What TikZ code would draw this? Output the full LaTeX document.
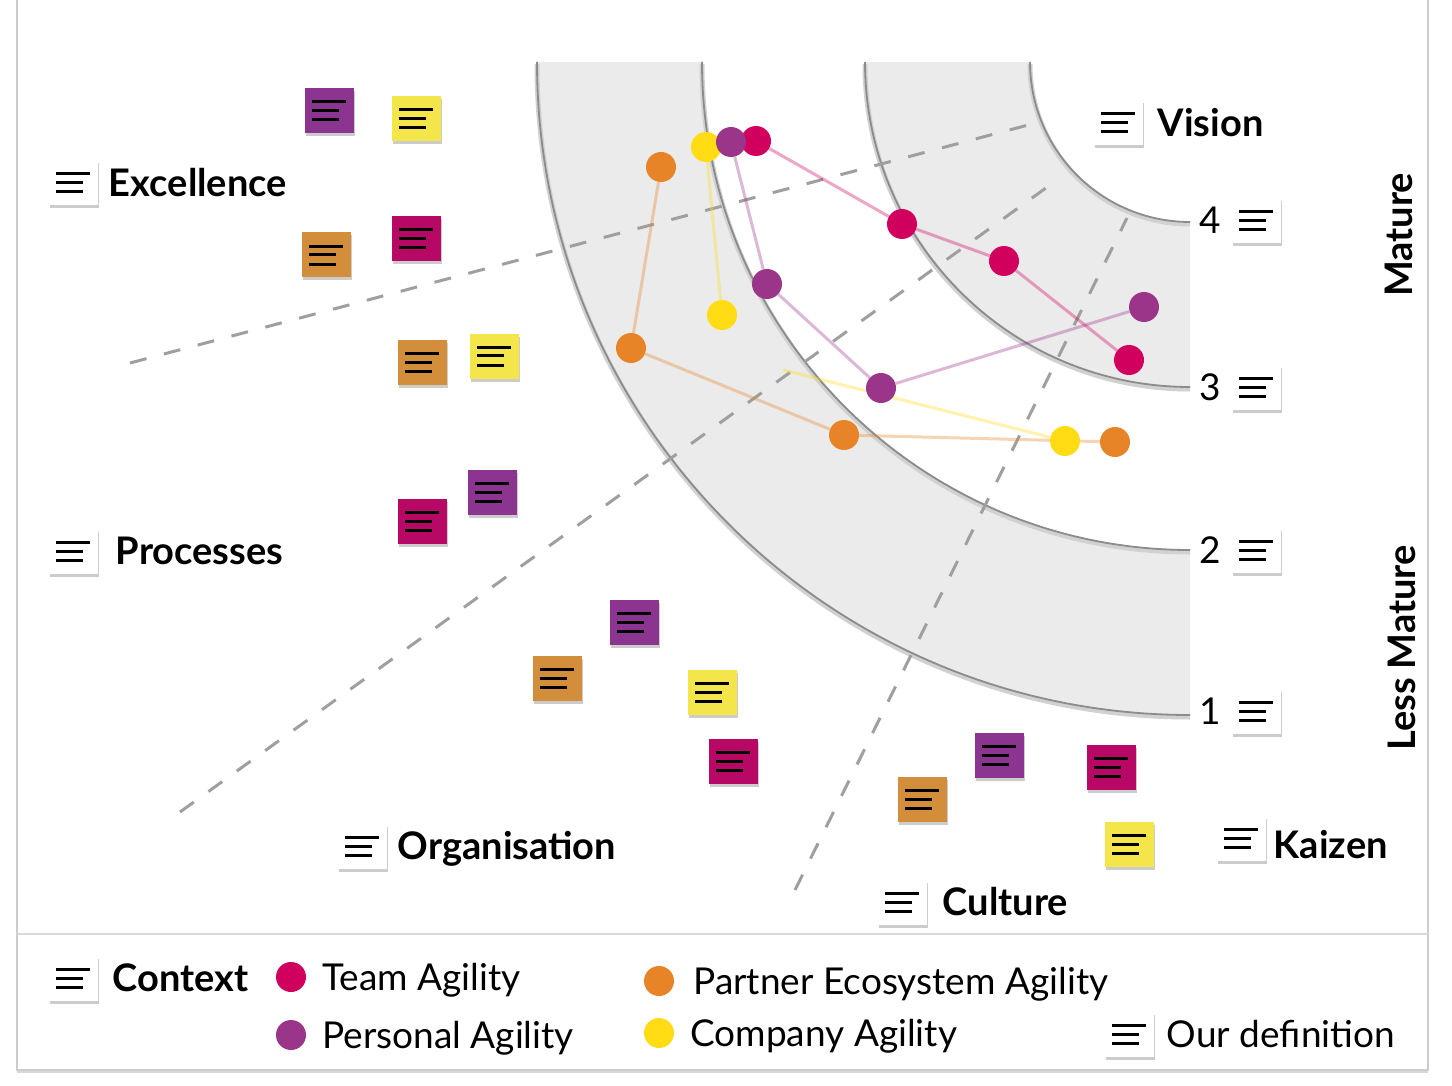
\documentclass[tikz,border=0pt]{standalone}
\usepackage{fontspec}
\setmainfont{Lato}
\usepackage{tikz}
\usetikzlibrary{positioning,shadows}
\definecolor{teamc}{HTML}{D1005F}
\definecolor{persc}{HTML}{9B358A}
\definecolor{partc}{HTML}{E68427}
\definecolor{compc}{HTML}{FFDC14}
\definecolor{npur}{HTML}{8B3591}
\definecolor{nyel}{HTML}{F4E54A}
\definecolor{nora}{HTML}{D38E3B}
\definecolor{nmag}{HTML}{B80866}
\definecolor{bandgray}{HTML}{EBEBEB}
\definecolor{dashgray}{HTML}{9F9F9F}
\newcommand\txtlines{\vbox{\hrule width 34pt height 3pt\vskip 6pt\hrule width 27pt height 3pt\vskip 6pt\hrule width 27pt height 3pt}}
\pgfdeclarelayer{bg}
\pgfdeclarelayer{links}
\pgfsetlayers{bg,links,main}

\begin{document}
\begin{tikzpicture}[x=1pt,y=1pt,
  icon/.style={minimum width=49pt,minimum height=45pt,inner sep=0pt,drop shadow={shadow xshift=1pt,shadow yshift=-3pt,opacity=.4}},
  note/.style={icon,fill=white},
  sticky/.style={icon,fill=#1},
  lbl/.style={font=\fontsize{38}{40}\selectfont\bfseries,inner sep=0pt,text height=27pt,text depth=0pt},
  leg/.style={font=\fontsize{37}{40}\selectfont,inner sep=0pt,text height=26pt,text depth=0pt},
  dot/.style={circle,fill=#1,minimum size=30pt,inner sep=0pt},
  link/.style={draw=#1,draw opacity=.35,line width=3pt},
  sector/.style={dashgray,line width=3pt,dash pattern=on 17pt off 18pt},
  band/.style={fill=bandgray},
  rim/.style={black!45,line width=1.8pt},
  rimshade/.style={black!18,line width=5pt,yshift=-2pt}]
\useasboundingbox (0,0) rectangle (1452,-1086);

\begin{pgfonlayer}{bg}
\fill[white] (0,0) rectangle (1452,-1086);
\filldraw[fill=white,draw=black!20,line width=1.5pt,drop shadow={shadow xshift=0pt,shadow yshift=-3pt,opacity=.3}] (17,20) rectangle (1428,-1070);
\draw[black!15,line width=2pt] (17,-934) -- (1428,-934);
\fill[band] (537,-62) arc[start angle=180,end angle=270,radius=653] -- (1190,-550) arc[start angle=270,end angle=180,radius=488] -- cycle;
\fill[band] (865,-62) arc[start angle=180,end angle=270,radius=325] -- (1190,-222) arc[start angle=270,end angle=180,radius=160] -- cycle;
\foreach \r in {653,488,325,160} {
  \draw[rimshade] ({1190-\r},-62) arc[start angle=180,end angle=270,radius=\r];
  \draw[rim] ({1190-\r},-62) arc[start angle=180,end angle=270,radius=\r];
}
\coordinate (s1a) at (130,-363);
\coordinate (s1b) at (1032,-124);
\coordinate (s2a) at (180,-812);
\coordinate (s2b) at (1057,-180);
\coordinate (s3a) at (795,-890);
\coordinate (s3b) at (1127,-218);
\draw[sector] (s1a) -- (s1b);
\draw[sector] (s2a) -- (s2b);
\draw[sector] (s3a) -- (s3b);
\end{pgfonlayer}

\node[note] (exc) at (73,-183) {\txtlines};
\node[lbl,right=11pt of exc] (exct) {Excellence};
\node[note] (vis) at (1118,-123) {\txtlines};
\node[lbl,right=15pt of vis] (vist) {Vision};
\node[note] (proc) at (73,-551) {\txtlines};
\node[lbl,right=18pt of proc] (proct) {Processes};
\node[note] (org) at (362,-846) {\txtlines};
\node[lbl,right=11pt of org] (orgt) {Organisation};
\node[note] (cult) at (902,-902) {\txtlines};
\node[lbl,right=16pt of cult] (cultt) {Culture};
\node[note] (kai) at (1241,-838) {\txtlines};
\node[lbl,anchor=west] (kait) at ([xshift=8pt,yshift=-7pt]kai.east) {Kaizen};

\foreach \n/\y in {4/221,3/387,2/550,1/711} {
  \node[note] (lv\n) at (1256,-\y) {\txtlines};
  \node[leg,left=10pt of lv\n] (lv\n t) {\n};
}
\node[lbl,rotate=90] (mat) at (1399,-235) {Mature};
\node[lbl,rotate=90] (lmat) at (1402,-648) {Less Mature};

\foreach \nm/\col/\px/\py in {s1/npur/329/111,s2/nyel/416/119,s3/nora/326/255,s4/nmag/416/239,
  s5/nora/422/362,s6/nyel/494/356,s7/nmag/422/521,s8/npur/492/492,
  s9/npur/634/622,s10/nora/557/678,s11/nyel/712/692,s12/nmag/733/761,
  s13/npur/999/755,s14/nora/922/799,s15/nmag/1111/767,s16/nyel/1129/844}
  \node[sticky=\col] (\nm) at (\px,-\py) {\txtlines};

\node[dot=teamc] (tm1) at (756,-141) {};
\node[dot=teamc] (tm2) at (902,-224) {};
\node[dot=teamc] (tm3) at (1004,-261) {};
\node[dot=teamc] (tm4) at (1129,-360) {};
\node[dot=partc] (pt1) at (661,-167) {};
\node[dot=partc] (pt2) at (631,-348) {};
\node[dot=partc] (pt3) at (844,-435) {};
\node[dot=partc] (pt4) at (1115,-442) {};
\coordinate (cp0) at (783,-370);
\node[dot=compc] (cp1) at (706,-147) {};
\node[dot=compc] (cp2) at (722,-315) {};
\node[dot=compc] (cp3) at (1065,-441) {};
\node[dot=persc] (ps1) at (731,-142) {};
\node[dot=persc] (ps2) at (767,-284) {};
\node[dot=persc] (ps3) at (881,-388) {};
\node[dot=persc] (ps4) at (1144,-307) {};

\begin{pgfonlayer}{links}
\draw[link=teamc] (tm1) -- (tm2) -- (tm3) -- (tm4);
\draw[link=partc] (pt1) -- (pt2) -- (pt3) -- (pt4);
\draw[link=compc] (cp1) -- (cp2);
\draw[link=compc] (cp0) -- (cp3);
\draw[link=persc] (ps1) -- (ps2) -- (ps3) -- (ps4);
\end{pgfonlayer}

\node[note] (ctx) at (73,-978) {\txtlines};
\node[lbl,right=15pt of ctx] (ctxt) {Context};
\node[dot=teamc] (lg1) at (291,-977) {};
\node[leg,right=16pt of lg1] (lg1t) {Team Agility};
\node[dot=persc] (lg2) at (291,-1035) {};
\node[leg,right=16pt of lg2] (lg2t) {Personal Agility};
\node[dot=partc] (lg3) at (659,-981) {};
\node[leg,right=19pt of lg3] (lg3t) {Partner Ecosystem Agility};
\node[dot=compc] (lg4) at (659,-1033) {};
\node[leg,right=16pt of lg4] (lg4t) {Company Agility};
\node[note] (def) at (1129,-1034) {\txtlines};
\node[leg,right=13pt of def] (deft) {Our definition};
\end{tikzpicture}
\end{document}
